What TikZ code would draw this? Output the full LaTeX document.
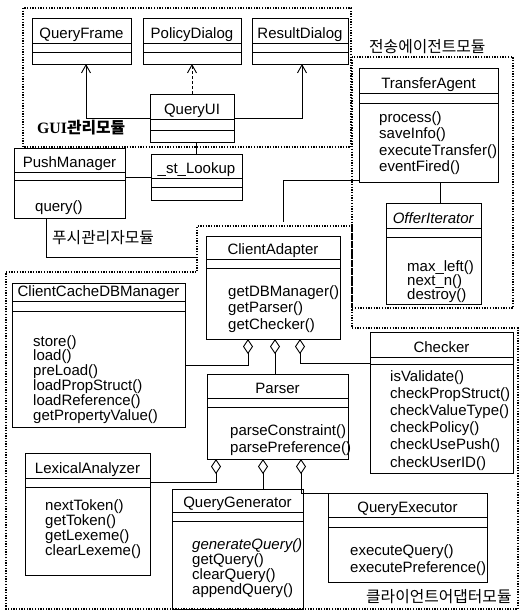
\documentclass[tikz,border=0pt]{standalone}
\usepackage{fontspec}
\setmainfont{Liberation Sans}
\newfontfamily\krfont{Noto Sans CJK KR}
\newfontfamily\serifbold{Liberation Serif}
\usetikzlibrary{arrows.meta}

\tikzset{
  classbox/.style={draw, line width=0.9pt, inner sep=0pt, outer sep=0pt, rectangle},
  classline/.style={line width=0.9pt},
  nametext/.style={font=\fontsize{15}{15}\selectfont, inner sep=0pt},
  optext/.style={font=\fontsize{15}{15}\selectfont, inner sep=0pt},
  module/.style={line width=1.3pt, dash pattern=on 1.3pt off 1.4pt},
  modlabel/.style={font=\krfont\fontsize{15.8}{16}\selectfont, inner sep=0pt, anchor=base west},
  link/.style={line width=0.9pt},
  gen/.style={link, -{Straight Barb[length=8pt,width=9pt]}},
  usedep/.style={gen, dash pattern=on 3pt off 2pt},
  aggr/.style={link, {Diamond[open,length=15pt,width=10pt]}-},
}

% class box: name, x1, y1, x2, y2, first divider, second divider, title
\newcommand{\umlbox}[8]{%
  \node[classbox, minimum width={#4-#2}, minimum height={#5-#3}, anchor=north west] (#1) at (#2,#3) {};
  \draw[classline] (#2,#6) -- (#4,#6) (#2,#7) -- (#4,#7);
  \node[nametext, anchor=base] (#1-name) at ({(#2+#4)/2},{#6-5}) {#8};
}
% operations: class name, x, first baseline, line step, list
\newcommand{\umlops}[5]{%
  \foreach \op [count=\k] in {#5} {
    \node[optext, anchor=base west] (#1-op\k) at (#2,{#3+(\k-1)*#4}) {\op};
  }
}

\begin{document}
\begin{tikzpicture}[x=1pt,y=-1pt]
\fill[white] (0,0) rectangle (522,614);
\useasboundingbox (0,0) rectangle (522,614);

% ---- GUI module ----
\umlbox{QueryFrame}{32}{18}{131}{64}{43}{52}{QueryFrame}
\umlbox{PolicyDialog}{143}{18}{241}{64}{43}{52}{PolicyDialog}
\umlbox{ResultDialog}{252}{18}{348}{64}{43}{52}{ResultDialog}
\umlbox{QueryUI}{150}{94}{234}{142}{119}{130}{QueryUI}

% ---- lookup and push manager ----
\umlbox{Lookup}{151}{154}{242}{200}{178}{187}{\_st\_Lookup}
\umlbox{PushManager}{14}{148}{125}{218}{172}{180}{PushManager}
\umlops{PushManager}{35}{211}{15}{query()}

% ---- transfer agent module ----
\umlbox{TransferAgent}{359}{68}{498}{182}{93}{103}{TransferAgent}
\umlops{TransferAgent}{379}{122}{16.5}{process(),saveInfo(),executeTransfer(),eventFired()}
\umlbox{OfferIterator}{386}{203}{481}{304}{228}{237}{\textit{OfferIterator}}
\umlops{OfferIterator}{407}{271}{14}{max\_left(),next\_n(),destroy()}

% ---- client adapter module ----
\umlbox{ClientAdapter}{206}{236}{340}{339}{259}{268}{ClientAdapter}
\umlops{ClientAdapter}{228}{296}{16.5}{getDBManager(),getParser(),getChecker()}
\umlbox{CCDB}{12}{283}{185}{427}{301}{311}{ClientCacheDBManager}
\umlops{CCDB}{33}{346}{14.8}{store(),load(),preLoad(),loadPropStruct(),loadReference(),getPropertyValue()}
\umlbox{Checker}{370}{332}{513}{473}{357}{364}{Checker}
\umlops{Checker}{390}{381}{17.2}{isValidate(),checkPropStruct(),checkValueType(),checkPolicy(),checkUsePush(),checkUserID()}
\umlbox{Parser}{207}{374}{348}{459}{398}{407}{Parser}
\umlops{Parser}{230}{435}{17}{parseConstraint(),parsePreference()}
\umlbox{Lexical}{25}{453}{150}{575}{478}{487}{LexicalAnalyzer}
\umlops{Lexical}{45}{510}{15}{nextToken(),getToken(),getLexeme(),clearLexeme()}
\umlbox{QGen}{172}{489}{303}{609}{512}{521}{QueryGenerator}
\umlops{QGen}{192}{549}{15}{\textit{generateQuery()},getQuery(),clearQuery(),appendQuery()}
\umlbox{QExec}{328}{493}{487}{582}{517}{527}{QueryExecutor}
\umlops{QExec}{350}{555}{17}{executeQuery(),executePreference()}

% ---- module boundaries ----
\draw[module] (23,8) rectangle (351,147);
\draw[module] (352,57) rectangle (513,308);
\draw[module] (6,272) -- (197,272) -- (197,226) -- (352,226) -- (352,328)
  -- (518,328) -- (518,609) -- (6,609) -- cycle;

% ---- module labels ----
\node[modlabel] (lblGui) at (37,133) {{\serifbold\bfseries GUI}\bfseries 관리모듈};
\node[modlabel] (lblTransfer) at (369,52) {전송에이전트모듈};
\node[modlabel] (lblPush) at (52,243) {푸시관리자모듈};
\node[modlabel] (lblClient) at (366,602) {클라이언트어댑터모듈};

% ---- connectors ----
\draw[gen] (QueryUI.west) -| ([xshift=4.5pt]QueryFrame.south);
\draw[usedep] (QueryUI.north) -- (PolicyDialog.south);
\draw[gen] (QueryUI.east) -| ([xshift=2pt]ResultDialog.south);
\draw[link] (Lookup.north) -- (Lookup.north |- QueryUI.south);
\draw[link] (PushManager.east |- Lookup.west) -- (Lookup.west);

\coordinate (caStub) at (283,222);
\draw[link] ([yshift=2pt]TransferAgent.south west) -| (caStub);
\coordinate (pmStub) at (197,257);
\draw[link] ([xshift=-23.5pt]PushManager.south) |- (pmStub);
\draw[link] ([xshift=6.5pt]OfferIterator.north) -- ([xshift=6.5pt]OfferIterator.north |- TransferAgent.south);

\draw[aggr] ([xshift=-25pt]ClientAdapter.south) |- ([yshift=-10pt]CCDB.east);
\draw[aggr] ([xshift=2pt]ClientAdapter.south) -- ([xshift=2pt]ClientAdapter.south |- Parser.north);
\draw[aggr] ([xshift=27pt]ClientAdapter.south) |- ([yshift=-31pt]Checker.north west);

\draw[aggr] ([xshift=-61.5pt]Parser.south) |- ([yshift=-29pt]Lexical.north east);
\draw[aggr] ([xshift=-14.5pt]Parser.south) -- ([xshift=-14.5pt]Parser.south |- QGen.north);
\draw[aggr] ([xshift=23.5pt]Parser.south) |- (QExec.north west);
\end{tikzpicture}
\end{document}
